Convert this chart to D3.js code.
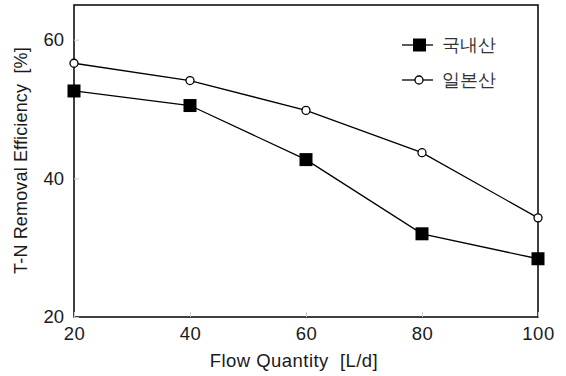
<!DOCTYPE html>
<html><head><meta charset="utf-8">
<script src="https://cdn.jsdelivr.net/npm/d3@7"></script>
<style>body{margin:0;background:#fff}svg{display:block}text{font-family:"Liberation Sans",Arial,sans-serif}</style>
</head><body>
<script>
const flow = [20, 40, 60, 80, 100];
const domestic = [52.6, 50.5, 42.7, 32.0, 28.4];
const japanese = [56.6, 54.1, 49.8, 43.7, 34.3];
const seriesNames = ["국내산", "일본산"];
const xTicks = [20, 40, 60, 80, 100];
const yTicks = [20, 40, 60];

const W = 566, H = 376;
const m = {l: 74, r: 28, t: 5, b: 59};
const svg = d3.select("body").append("svg").attr("width", W).attr("height", H);
const x = d3.scaleLinear().domain([20, 100]).range([m.l, W - m.r]);
const y = d3.scaleLinear().domain([20, 65]).range([H - m.b, m.t]);

// frame
svg.append("rect").attr("x", m.l).attr("y", m.t).attr("width", W - m.r - m.l).attr("height", H - m.b - m.t)
  .attr("fill", "none").attr("stroke", "#000").attr("stroke-width", 1.5);

// x axis
const gx = svg.append("g").attr("transform", `translate(0,${H - m.b})`)
  .call(d3.axisBottom(x).tickValues(xTicks).tickSize(-5));
gx.select(".domain").remove();
gx.selectAll(".tick line").attr("stroke", "#ccc");
gx.selectAll("text").attr("font-size", 18.5).attr("fill", "#1a1a1a").attr("y", 23).attr("dy", 0)
  .attr("letter-spacing", 0.5);

const gy = svg.append("g").attr("transform", `translate(${m.l},0)`)
  .call(d3.axisLeft(y).tickValues(yTicks).tickSize(-5).tickPadding(10));
gy.select(".domain").remove();
gy.selectAll(".tick line").attr("stroke", "#ccc");
gy.selectAll("text").attr("font-size", 18.5).attr("fill", "#1a1a1a");

svg.append("text").attr("x", 294).attr("y", 367).attr("text-anchor", "middle")
  .attr("font-size", 18.5).attr("letter-spacing", 0.45).attr("fill", "#1a1a1a")
  .text("Flow Quantity\u00a0\u00a0[L/d]");
svg.append("text").attr("transform", `translate(27,160.5) rotate(-90)`)
  .attr("text-anchor", "middle").attr("font-size", 18).attr("letter-spacing", 0.15).attr("fill", "#1a1a1a")
  .text("T-N Removal Efficiency\u00a0\u00a0[%]");

const line = d3.line().x((d, i) => x(flow[i])).y(d => y(d));
[domestic, japanese].forEach(s => {
  svg.append("path").datum(s).attr("d", line).attr("fill", "none").attr("stroke", "#000").attr("stroke-width", 1.3);
});
svg.selectAll(".sq").data(domestic).enter().append("rect")
  .attr("x", (d, i) => x(flow[i]) - 6.5).attr("y", d => y(d) - 6.5).attr("width", 13).attr("height", 13).attr("fill", "#000");
svg.selectAll(".ci").data(japanese).enter().append("circle")
  .attr("cx", (d, i) => x(flow[i])).attr("cy", d => y(d)).attr("r", 4).attr("fill", "#fff").attr("stroke", "#000").attr("stroke-width", 1.3);

// legend
const lg = svg.append("g");
[0, 1].forEach(i => {
  const ly = 45 + i * 35;
  lg.append("line").attr("x1", 402).attr("x2", 433).attr("y1", ly).attr("y2", ly).attr("stroke", "#000").attr("stroke-width", 1.3);
  if (i === 0) lg.append("rect").attr("x", 413).attr("y", ly - 6.5).attr("width", 13).attr("height", 13).attr("fill", "#000");
  else lg.append("circle").attr("cx", 419).attr("cy", ly).attr("r", 4).attr("fill", "#fff").attr("stroke", "#000").attr("stroke-width", 1.3);
  lg.append("text").attr("x", 442).attr("y", ly).attr("dy", "0.35em").attr("font-size", 18)
    .attr("font-family", "'Noto Sans CJK KR',sans-serif").attr("font-weight", 300).attr("fill", "#333").text(seriesNames[i]);
});
</script>
</body></html>
